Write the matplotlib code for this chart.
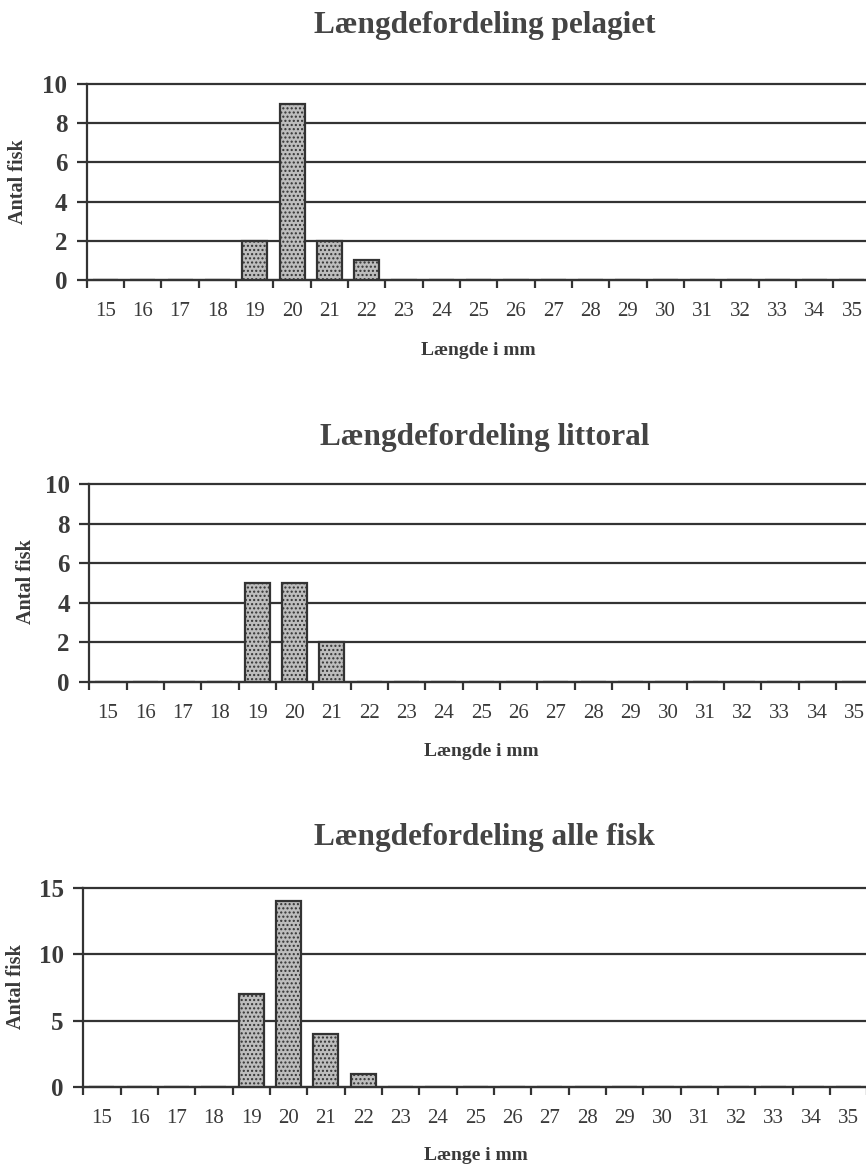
import matplotlib.pyplot as plt
import numpy as np

plt.rcParams['font.family'] = ['Liberation Serif', 'DejaVu Serif']

# laengder i mm
laengder = list(range(15, 36))

# antal fisk pr. laengde
pelagiet = [0, 0, 0, 0, 2, 9, 2, 1, 0, 0, 0, 0, 0, 0, 0, 0, 0, 0, 0, 0, 0]
littoral = [0, 0, 0, 0, 5, 5, 2, 0, 0, 0, 0, 0, 0, 0, 0, 0, 0, 0, 0, 0, 0]
alle = [0, 0, 0, 0, 7, 14, 4, 1, 0, 0, 0, 0, 0, 0, 0, 0, 0, 0, 0, 0, 0]

titler = ['Længdefordeling pelagiet', 'Længdefordeling littoral', 'Længdefordeling alle fisk']
xlabels = ['Længde i mm', 'Længde i mm', 'Længe i mm']
yticks_list = [[0, 2, 4, 6, 8, 10], [0, 2, 4, 6, 8, 10], [0, 5, 10, 15]]

linjefarve = '#333333'
tekstfarve = '#3a3a3a'

W, H = 866, 1165
fig = plt.figure(figsize=(W / 100, H / 100), dpi=100)

# akse-placering i pixels: venstre, top, bund (fra oeverste venstre hjoerne)
akser_px = [(86.7, 84, 280), (89.3, 484, 682), (83.3, 888, 1087)]
kat_bredde = 37.33
# tekst-placering i pixels
titel_px = [(485, 33), (485, 445), (484, 845)]
xlabel_px = [(478, 350), (481, 752), (476, 1155)]
ylabel_px = [(18, 182), (26, 582), (16, 987)]

for i, data in enumerate([pelagiet, littoral, alle]):
    venstre, top, bund = akser_px[i]
    bredde = kat_bredde * len(laengder)
    ax = fig.add_axes([venstre / W, 1 - bund / H, bredde / W, (bund - top) / H])
    yt = yticks_list[i]
    x = np.arange(len(laengder))
    ax.bar(x, data, width=0.67, color='#bdbdbd', edgecolor=linjefarve,
           linewidth=1.6, hatch='....', zorder=3)
    ax.set_xlim(-0.5, len(laengder) - 0.5)
    ax.set_ylim(0, yt[-1])
    ax.set_yticks(yt)
    for v in yt:
        ax.axhline(v, color=linjefarve, lw=1.6, zorder=1, clip_on=False)
    ax.set_yticklabels([str(v) for v in yt], fontsize=18, fontweight='bold', color=tekstfarve)
    ax.set_xticks(x)
    ax.set_xticklabels([str(l) for l in laengder], fontsize=15, color=tekstfarve)
    ax.set_xticks(np.arange(len(laengder) + 1) - 0.5, minor=True)
    ax.tick_params(axis='x', which='major', length=0, pad=16)
    ax.tick_params(axis='x', which='minor', length=6, width=1.6, color=linjefarve, direction='out')
    ax.tick_params(axis='y', length=7, width=1.6, color=linjefarve, pad=7)
    for s in ['top', 'right']:
        ax.spines[s].set_visible(False)
    for s in ['left', 'bottom']:
        ax.spines[s].set_color(linjefarve)
        ax.spines[s].set_linewidth(1.6)

    tx, ty = titel_px[i]
    fig.text(tx / W, 1 - ty / H, titler[i], fontsize=22.5, fontweight='bold',
             color='#444444', ha='center', va='baseline')
    lx, ly = xlabel_px[i]
    fig.text(lx / W, 1 - ly / H, xlabels[i], fontsize=14, fontweight='bold',
             color=tekstfarve, ha='center', va='center')
    yx, yy = ylabel_px[i]
    fig.text(yx / W, 1 - yy / H, 'Antal fisk', fontsize=14.5, fontweight='bold',
             color=tekstfarve, ha='center', va='center', rotation=90)

fig.savefig('out.png', dpi=100)
